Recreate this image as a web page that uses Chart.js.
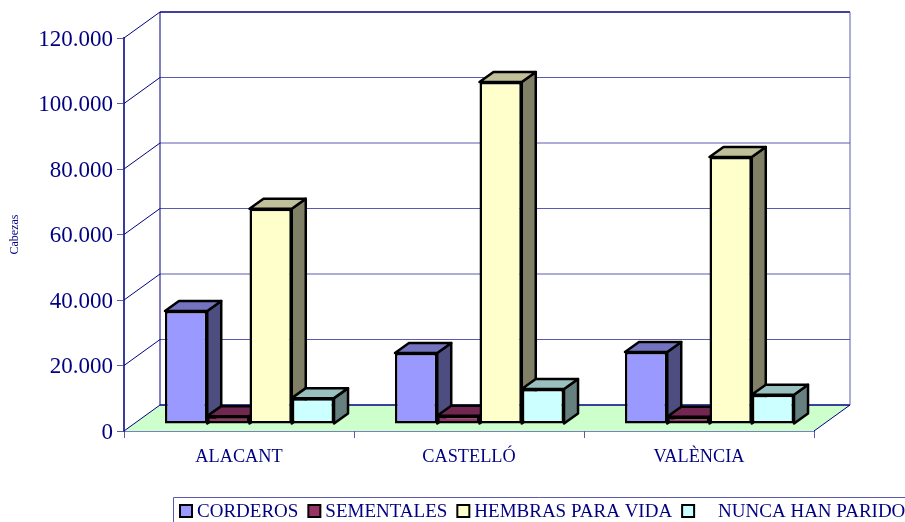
<!DOCTYPE html>
<html>
<head>
<meta charset="utf-8">
<script src="https://cdn.jsdelivr.net/npm/chart.js@4/dist/chart.umd.min.js"></script>
<style>
  html, body { margin: 0; padding: 0; background: #fff; }
  canvas { display: block; }
</style>
</head>
<body>
<canvas id="chart" width="905" height="522"></canvas>
<script>
const categories = ["ALACANT", "CASTELLÓ", "VALÈNCIA"];
const seriesNames = ["CORDEROS", "SEMENTALES", "HEMBRAS PARA VIDA", "    NUNCA HAN PARIDO"];
const corderos = [34500, 21700, 22000];
const sementales = [2400, 2500, 2200];
const hembras = [65700, 104400, 81500];
const nuncaHanParido = [7900, 10700, 8900];
const yTickLabels = ["0", "20.000", "40.000", "60.000", "80.000", "100.000", "120.000"];

const frontColors = ["#9999ff", "#993366", "#ffffcc", "#ccffff"];
const topColors = ["#7373bf", "#732650", "#bfbf99", "#99bfbf"];
const sideColors = ["#4d4d80", "#4d1a33", "#808066", "#668080"];

const NAVY = "#000080";
const GRID = "#5a5ab0";
const SERIF = "'Liberation Serif', 'Times New Roman', serif";

// wall depth, and how far the bars stand back from the front edge of the floor
const WALL_DX = 36, WALL_DY = -26;
const BAR_DX = 14, BAR_DY = -10;
const OFFSET_X = 10.5, OFFSET_Y = -7;

function line(ctx, points, color, width) {
  ctx.beginPath();
  points.forEach((p, i) => i ? ctx.lineTo(p[0], p[1]) : ctx.moveTo(p[0], p[1]));
  ctx.strokeStyle = color;
  ctx.lineWidth = width;
  ctx.stroke();
}

function face(ctx, points, fill) {
  ctx.beginPath();
  points.forEach((p, i) => i ? ctx.lineTo(p[0], p[1]) : ctx.moveTo(p[0], p[1]));
  ctx.closePath();
  ctx.fillStyle = fill;
  ctx.fill();
  ctx.strokeStyle = "#000";
  ctx.lineWidth = 2.5;
  ctx.lineJoin = "round";
  ctx.stroke();
}

const box3d = {
  id: "box3d",
  beforeDatasetsDraw(chart) {
    const ctx = chart.ctx;
    const { left, right, bottom } = chart.chartArea;
    const yScale = chart.scales.y;
    const backLeft = left + WALL_DX, backRight = right + WALL_DX;
    const backBottom = bottom + WALL_DY;

    ctx.save();
    ctx.beginPath();
    ctx.moveTo(left, bottom);
    ctx.lineTo(backLeft, backBottom);
    ctx.lineTo(backRight, backBottom);
    ctx.lineTo(right, bottom);
    ctx.closePath();
    ctx.fillStyle = "#ccffcc";
    ctx.fill();

    yScale.ticks.forEach(t => {
      const y = yScale.getPixelForValue(t.value);
      const isEdge = t.value === yScale.min || t.value === yScale.max;
      line(ctx, [[backLeft, y + WALL_DY], [backRight, y + WALL_DY]], isEdge ? NAVY : GRID, isEdge ? 1.5 : 1);
      line(ctx, [[left, y], [backLeft, y + WALL_DY]], NAVY, 1);
    });
    const wallTop = yScale.getPixelForValue(yScale.max) + WALL_DY;
    line(ctx, [[backLeft, wallTop], [backLeft, backBottom]], NAVY, 1);
    line(ctx, [[backRight, wallTop], [backRight, backBottom]], GRID, 1);
    line(ctx, [[right, bottom], [backRight, backBottom]], NAVY, 1);
    ctx.restore();
  },
  // the library paints the last dataset first; here each bar has to cover the one on its left
  beforeDatasetDraw() {
    return false;
  },
  afterDatasetsDraw(chart) {
    const ctx = chart.ctx;
    ctx.save();
    ctx.translate(OFFSET_X, OFFSET_Y);
    chart.data.datasets.forEach((ds, i) => {
      chart.getDatasetMeta(i).data.forEach(bar => {
        const l = bar.x - bar.width / 2, r = bar.x + bar.width / 2;
        face(ctx, [[r, bar.base], [r + BAR_DX, bar.base + BAR_DY], [r + BAR_DX, bar.y + BAR_DY], [r, bar.y]], sideColors[i]);
        face(ctx, [[l, bar.y], [l + BAR_DX, bar.y + BAR_DY], [r + BAR_DX, bar.y + BAR_DY], [r, bar.y]], topColors[i]);
        bar.draw(ctx);
      });
    });
    ctx.restore();
  }
};

const boxLegend = {
  id: "boxLegend",
  afterDraw(chart) {
    const ctx = chart.ctx;
    ctx.save();
    line(ctx, [[173.5, 522], [173.5, 497.5], [905, 497.5]], GRID, 1);
    ctx.font = "19px " + SERIF;
    ctx.textBaseline = "middle";
    let x = 180;
    chart.data.datasets.forEach(ds => {
      ctx.fillStyle = ds.backgroundColor;
      ctx.fillRect(x, 505, 12, 12);
      ctx.strokeStyle = "#000";
      ctx.lineWidth = 2;
      ctx.strokeRect(x, 505, 12, 12);
      ctx.fillStyle = NAVY;
      ctx.fillText(ds.label, x + 17, 512);
      x += 17 + ctx.measureText(ds.label).width + 10;
    });
    ctx.restore();
  }
};

const seriesValues = [corderos, sementales, hembras, nuncaHanParido];

new Chart(document.getElementById("chart"), {
  type: "bar",
  data: {
    labels: categories,
    datasets: seriesNames.map((name, i) => ({
      label: name,
      data: seriesValues[i],
      backgroundColor: frontColors[i],
      borderColor: "#000",
      borderWidth: 2.5,
      borderSkipped: false
    }))
  },
  options: {
    responsive: false,
    animation: false,
    devicePixelRatio: 1,
    layout: { padding: { top: 38, right: 91, bottom: 0, left: 0 } },
    datasets: { bar: { categoryPercentage: 0.735, barPercentage: 1 } },
    plugins: { legend: { display: false }, tooltip: { enabled: false } },
    scales: {
      x: {
        afterFit: s => { s.height = 91; },
        grid: { offset: true, drawOnChartArea: false, tickLength: 7, color: GRID },
        border: { color: NAVY, width: 1.5 },
        ticks: { color: NAVY, font: { family: SERIF, size: 18.3 }, padding: 8, maxRotation: 0 }
      },
      y: {
        min: 0,
        max: 120000,
        afterFit: s => { s.width = 124; },
        grid: { drawOnChartArea: false, tickLength: 7, color: GRID },
        border: { color: "#3a3aa0", width: 2 },
        title: { display: true, text: "Cabezas", color: NAVY, font: { family: SERIF, size: 12 }, padding: { top: 8, bottom: 0 } },
        ticks: {
          stepSize: 20000,
          color: NAVY,
          padding: 4,
          labelOffset: 1.5,
          font: { family: SERIF, size: 23 },
          callback: (value, index) => yTickLabels[index]
        }
      }
    }
  },
  plugins: [box3d, boxLegend]
});
</script>
</body>
</html>
